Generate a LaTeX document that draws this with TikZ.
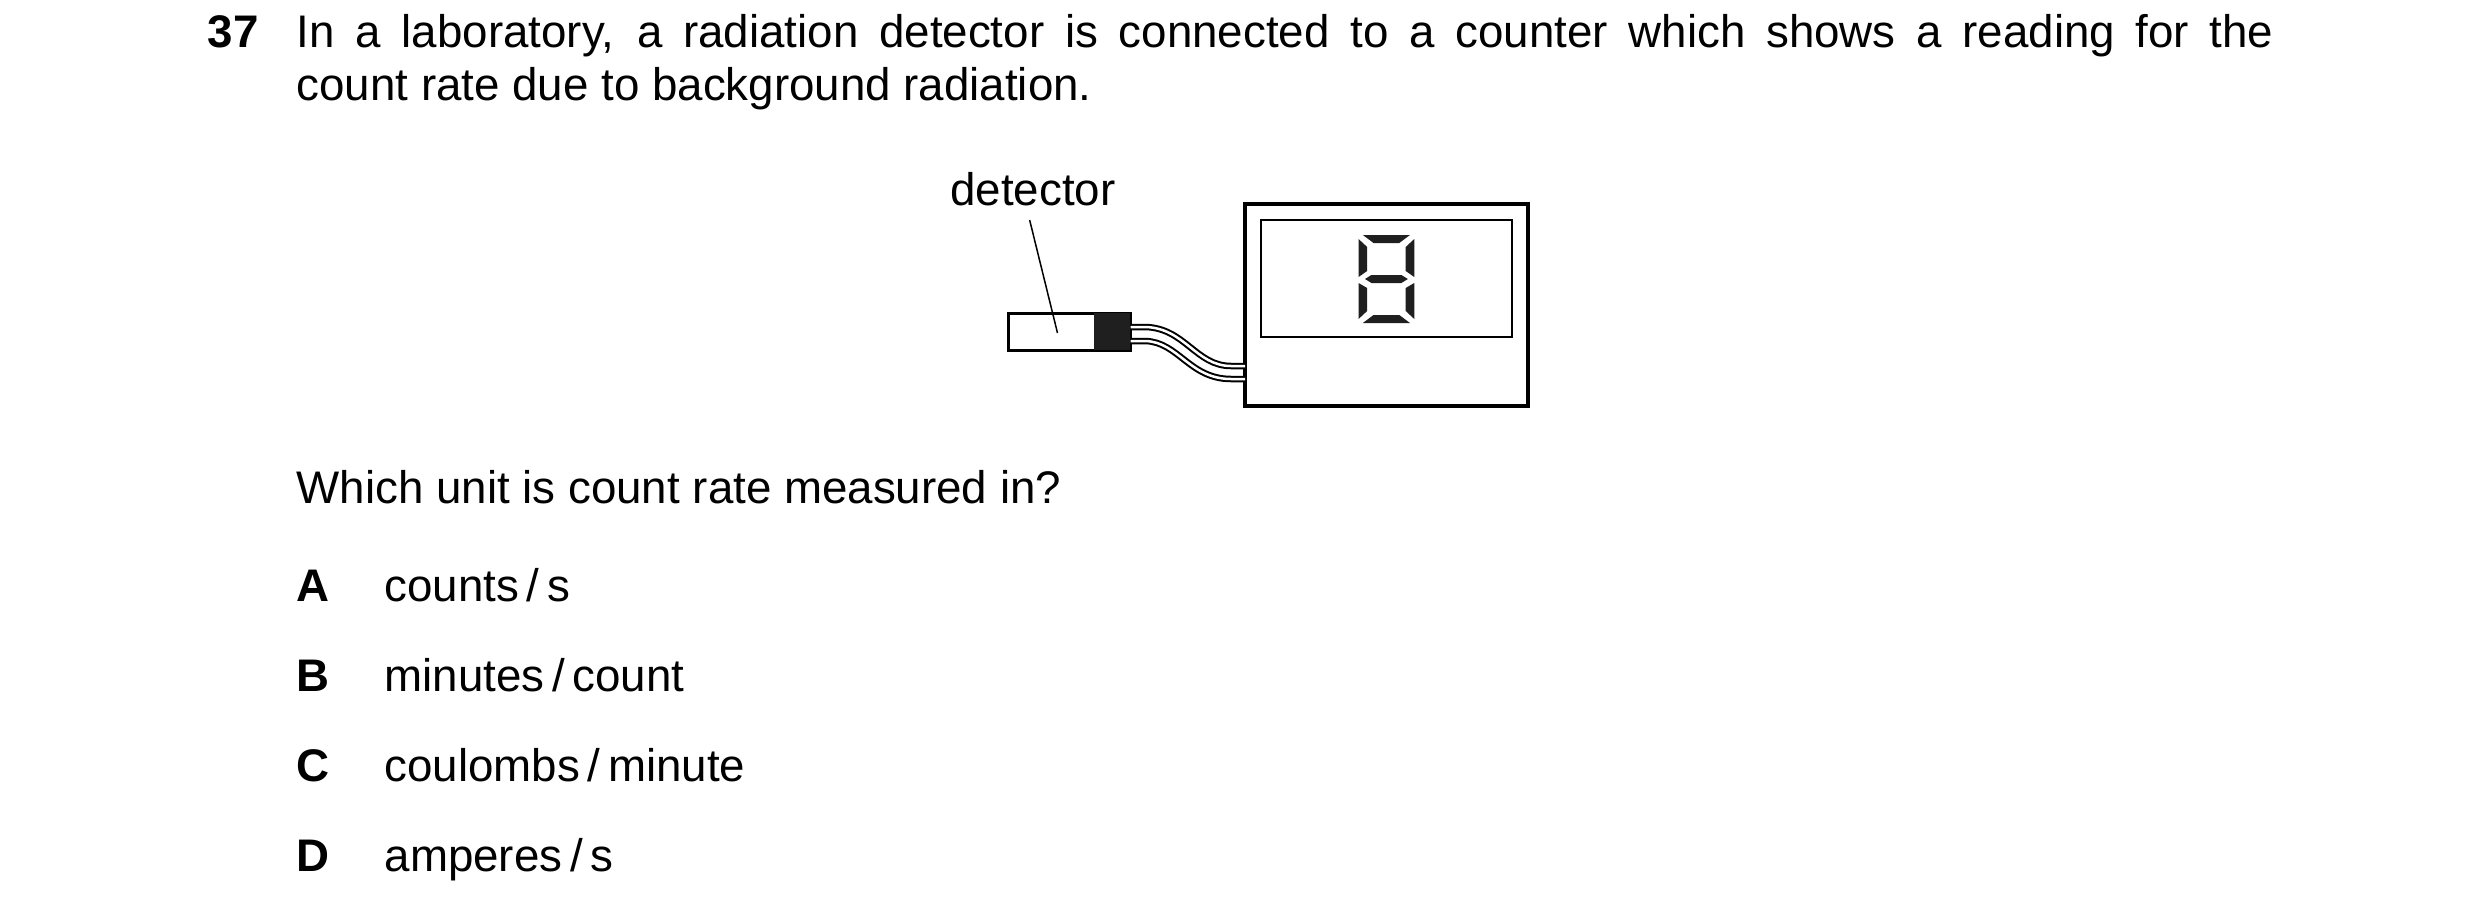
\documentclass[tikz,border=0pt]{standalone}
\usepackage{fontspec}
\setmainfont{Liberation Sans}
\begin{document}
\begin{tikzpicture}[x=0.1mm,y=-0.1mm,
  txt/.style={anchor=base west,inner sep=0pt,font=\fontsize{13pt}{15pt}\selectfont},
  lbl/.style={txt,font=\fontsize{13pt}{15pt}\selectfont\bfseries},
  seg/.style={fill=black!88,draw=none},
  wire/.style={line width=0.2mm,double=white,double distance=0.25mm}]
\useasboundingbox[fill=white] (0,0) rectangle (2480,920);
\node[lbl] (n37) at (207,47) {37};
\node[txt] (l1) at (296,47) {\makebox[1977\dimexpr0.1mm\relax][s]{In a laboratory, a radiation detector is connected to a counter which shows a reading for the}};
\node[txt] (l2) at (296,100) {count rate due to background radiation.};
\node[txt,anchor=base] (dl) at (1033,205) {detector};
\begin{scope}[shift={(990,0)},xscale=1.0714,shift={(-990,0)}]
% detector
\draw[line width=0.3mm] (1007,313) rectangle (1121,350);
\fill[black!88] (1087,313) rectangle (1121,350);
% counter
\draw[line width=0.4mm] (1228,204) rectangle (1492,406);
\draw[line width=0.15mm] (1243,220) rectangle (1477,337);
\coordinate (w1a) at (1121,327); \coordinate (w1b) at (1228,366);
\coordinate (w2a) at (1121,341); \coordinate (w2b) at (1228,379);
\draw[wire] (w1a) -- (1135,327) .. controls (1172,328) and (1182,366) .. (1215,366) -- (w1b);
\draw[wire] (w2a) -- (1135,341) .. controls (1166,342) and (1176,379) .. (1215,379) -- (w2b);
% digit 8
\fill[seg] (1338,235)--(1382,235)--(1372,243)--(1348,243)--cycle;
\fill[seg] (1334,239)--(1342,247)--(1342,271)--(1334,277)--cycle;
\fill[seg] (1386,239)--(1378,247)--(1378,271)--(1386,277)--cycle;
\fill[seg] (1340,279)--(1346,275)--(1374,275)--(1380,279)--(1374,283)--(1346,283)--cycle;
\fill[seg] (1334,283)--(1342,288)--(1342,311)--(1334,319)--cycle;
\fill[seg] (1386,283)--(1378,288)--(1378,311)--(1386,319)--cycle;
\fill[seg] (1338,323)--(1348,315)--(1372,315)--(1382,323)--cycle;
\coordinate (lt) at (1027,220);
\coordinate (lp) at (1053,333);
\end{scope}
\draw[line width=0.15mm] (lt) -- (lp);
% question
\node[txt] (q) at (296,503) {Which unit is count rate measured in?};
\node[lbl] (A) at (296,601) {A}; \node[txt] (a) at (384,601) {counts\,/\,s};
\node[lbl] (B) at (296,691) {B}; \node[txt] (b) at (384,691) {minutes\,/\,count};
\node[lbl] (C) at (296,781) {C}; \node[txt] (c) at (384,781) {coulombs\,/\,minute};
\node[lbl] (D) at (296,871) {D}; \node[txt] (d) at (384,871) {amperes\,/\,s};
\end{tikzpicture}
\end{document}
